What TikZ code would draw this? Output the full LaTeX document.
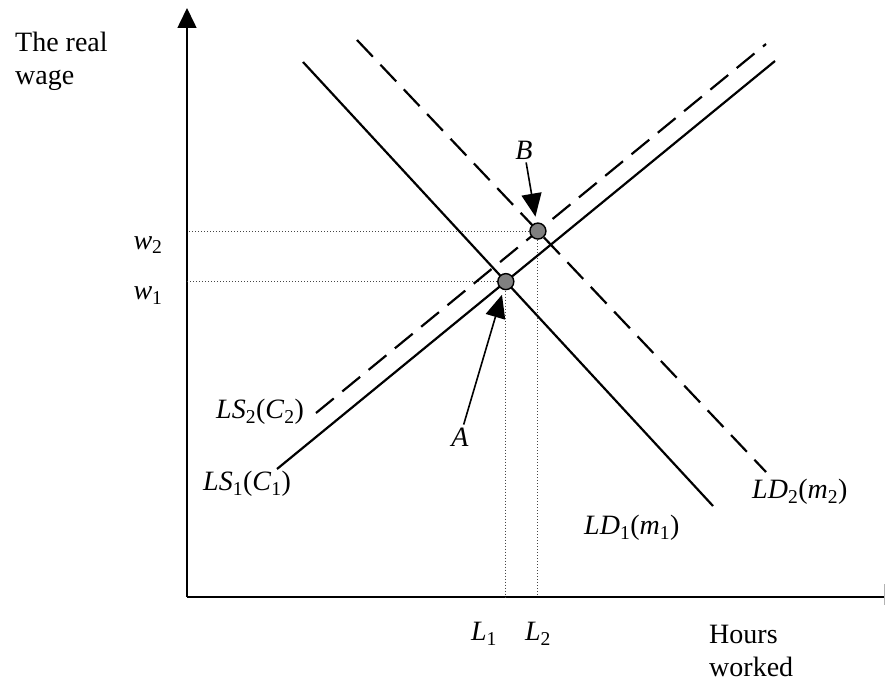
\documentclass[tikz,border=0pt]{standalone}
\usepackage{fontspec}
\setmainfont{Liberation Serif}
\usetikzlibrary{arrows.meta,positioning,calc}
\definecolor{eqgray}{RGB}{128,128,128}
\definecolor{guidegray}{RGB}{70,70,70}
\tikzset{
  axis/.style={line width=1.6pt, -{Triangle[length=20pt,width=19pt]}},
  axisline/.style={line width=1.6pt},
  endtick/.style={line width=1pt, gray!60},
  sched/.style={line width=2.2pt},
  shifted/.style={sched, dash pattern=on 23pt off 11pt},
  guide/.style={line width=1pt, dotted, guidegray},
  eqpt/.style={circle, draw, line width=1.4pt, fill=eqgray, minimum size=16pt, inner sep=0pt},
  pointer/.style={line width=1.6pt, -{Triangle[length=23pt,width=20pt]}},
  lbl/.style={font=\fontsize{28}{33}\selectfont, inner sep=0pt},
}

\begin{document}
\begin{tikzpicture}[x=1pt, y=-1pt]
  \useasboundingbox (0,0) rectangle (885,687);
  \coordinate (O) at (187,597);
  \coordinate (ytop) at (187,8);
  \coordinate (xend) at (884,597);
  \draw[axis] (O) -- (ytop);
  \draw[axisline] (O) -- (xend);
  \draw[endtick] ($(xend)+(0,-13)$) -- ($(xend)+(0,8)$);

  \coordinate (ls1a) at (277,469);
  \coordinate (ls1b) at (775,61);
  \coordinate (ls2a) at (316,413);
  \coordinate (ls2b) at (766,44);
  \coordinate (ld1a) at (303,62);
  \coordinate (ld1b) at (713,506);
  \coordinate (ld2a) at (357,40);
  \coordinate (ld2b) at (766,472);
  \coordinate (A) at (intersection of ls1a--ls1b and ld1a--ld1b);
  \coordinate (B) at (intersection of ls2a--ls2b and ld2a--ld2b);

  \draw[guide] (A) -- (A -| O);
  \draw[guide] (A) -- (A |- O);
  \draw[guide] (B) -- (B -| O);
  \draw[guide] (B) -- (B |- O);

  \draw[sched] (ls1a) -- (ls1b);
  \draw[shifted] (ls2a) -- (ls2b);
  \draw[sched] (ld1a) -- (ld1b);
  \draw[shifted] (ld2a) -- (ld2b);

  \node[eqpt] (ptA) at (A) {};
  \node[eqpt] (ptB) at (B) {};

  \node[lbl, inner sep=3pt] (labA) at (460,437) {\textit{A}};
  \node[lbl, inner sep=3pt] (labB) at (524,150) {\textit{B}};
  \draw[pointer, shorten >=5pt] (labA) -- (ptA);
  \draw[pointer, shorten >=6pt] (labB) -- (ptB);

  \node[lbl] (w1) at ($(A -| O)+(-39,14)$) {\textit{w}\textsubscript{1}};
  \node[lbl] (w2) at ($(B -| O)+(-39,14)$) {\textit{w}\textsubscript{2}};
  \node[lbl] (L1) at (484,634) {\textit{L}\textsubscript{1}};
  \node[lbl] (L2) at (538,634) {\textit{L}\textsubscript{2}};

  \node[lbl, anchor=west] (ls2lab) at (216,412) {\textit{LS}\textsubscript{2}(\textit{C}\textsubscript{2})};
  \node[lbl, anchor=west] (ls1lab) at (203,484) {\textit{LS}\textsubscript{1}(\textit{C}\textsubscript{1})};
  \node[lbl, anchor=west] (ld1lab) at (584,528) {\textit{LD}\textsubscript{1}(\textit{m}\textsubscript{1})};
  \node[lbl, anchor=west] (ld2lab) at (752,492) {\textit{LD}\textsubscript{2}(\textit{m}\textsubscript{2})};

  \node[lbl, align=left, anchor=north west] (ylab) at (15,32) {The real\\wage};
  \node[lbl, align=left, anchor=north west] (xlab) at (709,625) {Hours\\worked};
\end{tikzpicture}
\end{document}
